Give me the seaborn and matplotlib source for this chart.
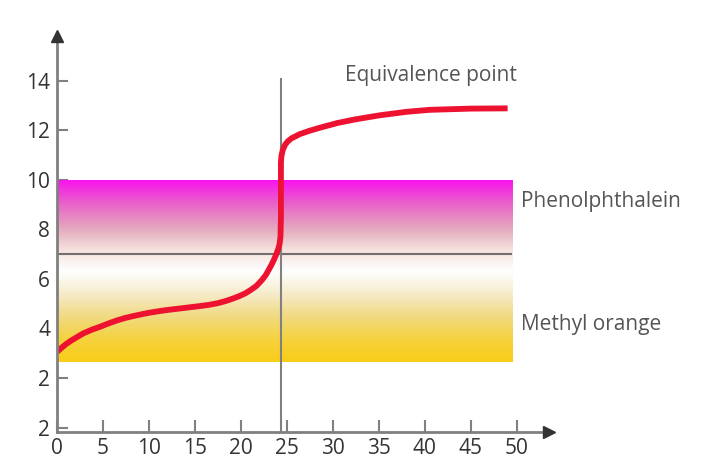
import numpy as np
import pandas as pd
import matplotlib
matplotlib.use("Agg")
import matplotlib.pyplot as plt
from matplotlib.colors import LinearSegmentedColormap
import seaborn as sns

# ---- data ----
volume = [0, 0.5, 1, 1.5, 2, 2.86, 3.8, 4.7, 5.6, 6.5, 7.4, 8.3, 9.2, 10,
          11.0, 11.9, 13.5, 15.5, 16.5, 17.5, 18.3, 19.1, 19.8, 20.5, 21.1,
          21.7, 22.3, 22.7, 23.0, 23.3, 23.6, 23.85, 24.05, 24.2, 24.3,
          24.35, 24.35, 24.35, 24.4, 24.55, 24.8, 25.1, 25.5, 26.4, 27.5,
          28.6, 30.5, 32.5, 35.1, 38, 40.5, 45, 49.0]
ph = [3.05, 3.22, 3.37, 3.5, 3.61, 3.8, 3.95, 4.07, 4.2, 4.32, 4.42, 4.5,
      4.57, 4.63, 4.69, 4.74, 4.81, 4.9, 4.95, 5.02, 5.1, 5.2, 5.3, 5.42,
      5.56, 5.72, 5.96, 6.15, 6.35, 6.55, 6.78, 7.0, 7.2, 7.4, 7.7,
      8.5, 10.0, 10.7, 10.95, 11.2, 11.41, 11.55, 11.67, 11.84, 11.98,
      12.1, 12.29, 12.44, 12.6, 12.74, 12.82, 12.87, 12.88]
x_ticks = [0, 5, 10, 15, 20, 25, 30, 35, 40, 45, 50]
x_labels = ["0", "5", "10", "15", "20", "25", "30", "35", "40", "45", "50"]
y_ticks = [0, 2, 4, 6, 8, 10, 12, 14]
y_labels = ["2", "2", "4", "6", "8", "10", "12", "14"]
equivalence_x = 24.4
neutral_ph = 7
band_range = [2.66, 10]
band_x_end = 49.5
label_names = ["Equivalence point", "Phenolphthalein", "Methyl orange"]
label_pos = [(31.3, 14.2), (50.5, 9.12), (50.5, 4.14)]

df = pd.DataFrame({"volume": volume, "pH": ph})

sns.set_style("white")
plt.rcParams["font.family"] = ["Open Sans", "DejaVu Sans"]

fig = plt.figure(figsize=(7.02, 4.68), dpi=100)
ax = fig.add_axes([57 / 702, 36 / 468, 492 / 702, 396 / 468])
ax.set_xlim(0, 53.5)
ax.set_ylim(-0.18, 15.8)

# gradient band
stops = [
    (0.0, (250 / 255, 205 / 255, 25 / 255)),
    (0.12, (245 / 255, 210 / 255, 60 / 255)),
    (0.25, (240 / 255, 218 / 255, 130 / 255)),
    (0.38, (246 / 255, 236 / 255, 205 / 255)),
    (0.50, (255 / 255, 255 / 255, 255 / 255)),
    (0.62, (245 / 255, 225 / 255, 220 / 255)),
    (0.73, (228 / 255, 170 / 255, 190 / 255)),
    (0.87, (232 / 255, 100 / 255, 200 / 255)),
    (1.0, (248 / 255, 20 / 255, 238 / 255)),
]
cmap = LinearSegmentedColormap.from_list("band", stops)
grad = np.linspace(0, 1, 256).reshape(-1, 1)
ax.imshow(grad, cmap=cmap, aspect="auto", origin="lower",
          extent=[-0.4, band_x_end, band_range[0], band_range[1]], zorder=1)

ax.plot([0, band_x_end], [neutral_ph, neutral_ph], color="#707070", lw=1.5, zorder=2)
ax.plot([equivalence_x, equivalence_x], [-0.18, 14.1], color="#808080", lw=1.5, zorder=2)

sns.lineplot(data=df, x="volume", y="pH", sort=False, estimator=None,
             color="#ec1230", lw=4.2, ax=ax, zorder=3)
for ln in ax.get_lines():
    ln.set_solid_capstyle("butt")
    ln.set_solid_joinstyle("round")

# axes styling
for s in ["top", "right"]:
    ax.spines[s].set_visible(False)
for s in ["left", "bottom"]:
    ax.spines[s].set_color("#808080")
    ax.spines[s].set_linewidth(2)
    ax.spines[s].set_zorder(4)
ax.plot(1, -0.18, ">", color="#333333", ms=9, transform=ax.get_yaxis_transform(), clip_on=False, zorder=5)
ax.plot(0, 1, "^", color="#333333", ms=9, transform=ax.get_xaxis_transform(), clip_on=False, zorder=5)

ax.set_xticks(x_ticks)
ax.set_xticklabels(x_labels)
ax.set_yticks(y_ticks)
ax.set_yticklabels(y_labels)
ax.tick_params(axis="both", direction="in", color="#808080", width=1.5,
               labelcolor="#333333", labelsize=15, left=True, bottom=True)
ax.tick_params(axis="x", length=9, pad=4)
ax.tick_params(axis="y", length=8, pad=5)
ax.set_xlabel("")
ax.set_ylabel("")

for name, (tx, ty) in zip(label_names, label_pos):
    ax.text(tx, ty, name, color="#555555", fontsize=15, va="center", ha="left",
            clip_on=False)

fig.savefig("out.png", dpi=100)
